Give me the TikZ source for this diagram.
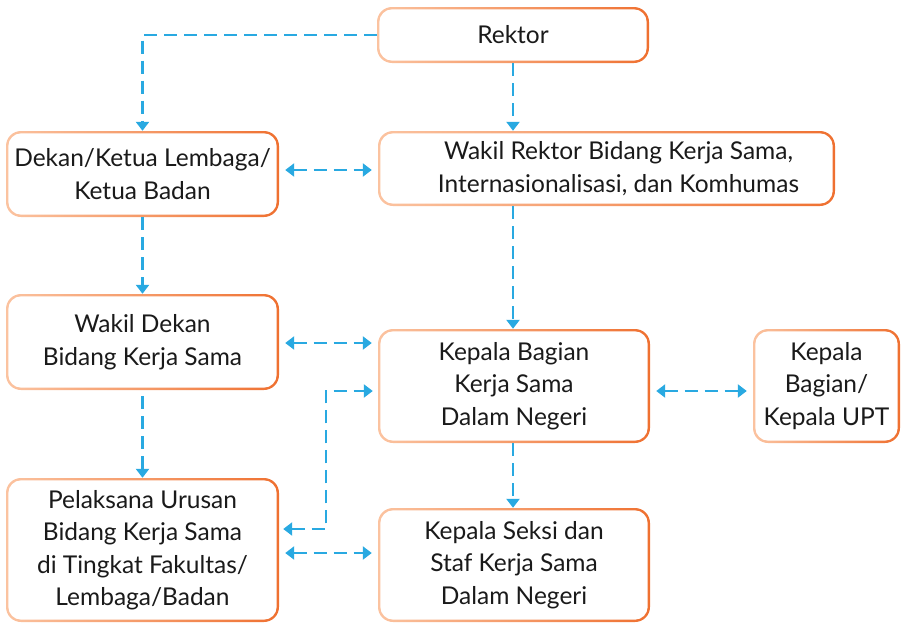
\documentclass[tikz,border=0pt]{standalone}
\usepackage{fontspec}
\setmainfont{Lato}
\usetikzlibrary{arrows.meta}
\definecolor{boxlight}{HTML}{FBC3A0}
\definecolor{boxdark}{HTML}{EF7030}
\definecolor{linkblue}{HTML}{29A9E1}
\definecolor{ink}{HTML}{1A1A1A}
\tikzset{
  x=1pt, y=1pt,
  orgbox/.style={
    rectangle, rounded corners=15pt, fill=white, inner sep=0pt,
    align=center, text=ink, font=\fontsize{24.5}{32.5}\selectfont,
    path picture={
      \shade[left color=boxlight, right color=boxdark]
        (path picture bounding box.south west) rectangle (path picture bounding box.north east);
      \fill[white, rounded corners=13pt]
        ([shift={(2.3pt,2.3pt)}]path picture bounding box.south west) rectangle
        ([shift={(-2.3pt,-2.3pt)}]path picture bounding box.north east);
    }},
  tip/.tip={Triangle[width=13pt,length=9pt]},
  link/.style={draw=linkblue, line width=2.5pt, dash pattern=on 13pt off 7pt, -tip},
  twoway/.style={link, tip-tip, shorten <=6pt, shorten >=6pt}
}
\begin{document}
\begin{tikzpicture}
\useasboundingbox (0,0) rectangle (904,-624);

% boxes
\node[orgbox, minimum width=272, minimum height=56] (rek) at (513,-35) {Rektor};
\node[orgbox, minimum width=457, minimum height=75] (wr) at (606.5,-168.5)
  {\hspace*{24pt}Wakil Rektor Bidang Kerja Sama,\\\hspace*{24pt}Internasionalisasi, dan Komhumas};
\node[orgbox, minimum width=273, minimum height=86] (dek) at (142.5,-174)
  {Dekan/Ketua Lembaga/\\Ketua Badan};
\node[orgbox, minimum width=273, minimum height=96] (wd) at (142.5,-342)
  {Wakil Dekan\\Bidang Kerja Sama};
\node[orgbox, minimum width=272, minimum height=114] (kb) at (514,-386)
  {Kepala Bagian\\Kerja Sama\\Dalam Negeri};
\node[orgbox, minimum width=147, minimum height=114] (upt) at (826.5,-386)
  {Kepala\\Bagian/\\Kepala UPT};
\node[orgbox, minimum width=273, minimum height=144] (pel) at (142.5,-550)
  {Pelaksana Urusan\\Bidang Kerja Sama\\di Tingkat Fakultas/\\Lembaga/Badan};
\node[orgbox, minimum width=272, minimum height=114] (ks) at (514,-565)
  {Kepala Seksi dan\\Staf Kerja Sama\\Dalam Negeri};

% levels of the horizontal links
\coordinate (yA) at (0,-170);
\coordinate (yB) at (0,-343);
\coordinate (yC) at (0,-391);
\coordinate (yD) at (0,-529);
\coordinate (yE) at (0,-553);
\coordinate (xE) at (326,0);

% vertical chains
\draw[link] (rek.west) -- (dek.north |- rek.west) -- (dek.north);
\draw[link] (rek.south) -- (rek.south |- wr.north);
\draw[link] (dek.south) -- (wd.north);
\draw[link] ([yshift=-6pt]wd.south) -- (pel.north);
\draw[link] (rek.south |- wr.south) -- (rek.south |- kb.north);
\draw[link] (kb.south -| rek.south) -- (ks.north -| rek.south);

% two-way links
\draw[twoway] (dek.east |- yA) -- (wr.west |- yA);
\draw[twoway] (wd.east |- yB) -- (kb.west |- yB);
\draw[twoway] (pel.east |- yE) -- (ks.west |- yE);
\draw[twoway] (kb.east |- yC) -- (upt.west |- yC);
\draw[link, tip-tip]
  ([xshift=4pt]pel.east |- yD) -- (xE |- yD) -- (xE |- yC) -- ([xshift=-5pt]kb.west |- yC);
\end{tikzpicture}
\end{document}
